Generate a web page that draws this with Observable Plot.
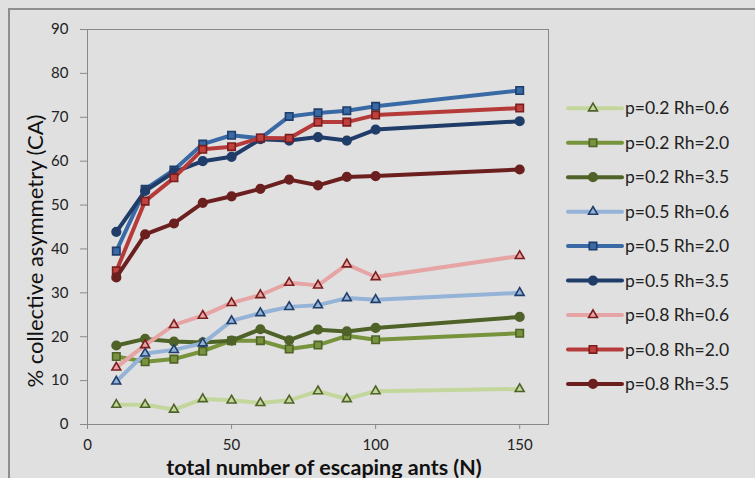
<!DOCTYPE html>
<html>
<head>
<meta charset="utf-8">
<script src="https://cdn.jsdelivr.net/npm/d3@7"></script>
<script src="https://cdn.jsdelivr.net/npm/@observablehq/plot@0.6"></script>
<style>
  html, body { margin: 0; padding: 0; background: #e0e0e0; }
  #wrap { position: relative; width: 755px; height: 478px; overflow: hidden; background: #e0e0e0; font-family: Lato, "Open Sans", sans-serif; }
  #border { position: absolute; left: 8px; top: 8px; width: 900px; height: 700px; border-left: 2px solid #8e8e8e; border-top: 2px solid #8e8e8e; }
  #chart { position: absolute; left: 0; top: 0; }
  #legend { position: absolute; left: 560px; top: 90px; }
</style>
</head>
<body>
<div id="wrap">
  <div id="border"></div>
  <div id="chart"></div>
  <div id="legend"></div>
</div>
<script>
// ---- data ----
const nAnts = [10, 20, 30, 40, 50, 60, 70, 80, 90, 100, 150];
const seriesNames = [
  "p=0.2 Rh=0.6", "p=0.2 Rh=2.0", "p=0.2 Rh=3.5",
  "p=0.5 Rh=0.6", "p=0.5 Rh=2.0", "p=0.5 Rh=3.5",
  "p=0.8 Rh=0.6", "p=0.8 Rh=2.0", "p=0.8 Rh=3.5"
];
const p02_rh06 = [4.5, 4.5, 3.4, 5.8, 5.5, 4.9, 5.5, 7.6, 5.8, 7.6, 8.1];
const p02_rh20 = [15.5, 14.3, 14.9, 16.7, 19.1, 19.1, 17.2, 18.1, 20.2, 19.3, 20.8];
const p02_rh35 = [18.0, 19.5, 18.9, 18.7, 19.1, 21.7, 19.2, 21.6, 21.2, 22.0, 24.5];
const p05_rh06 = [9.8, 16.2, 17.0, 18.5, 23.6, 25.4, 26.8, 27.2, 28.8, 28.4, 30.0];
const p05_rh20 = [39.5, 53.6, 58.0, 63.9, 65.9, 65.2, 70.2, 71.0, 71.5, 72.5, 76.1];
const p05_rh35 = [43.9, 53.2, 57.5, 60.0, 61.0, 65.0, 64.7, 65.5, 64.7, 67.2, 69.1];
const p08_rh06 = [13.0, 18.1, 22.7, 24.8, 27.7, 29.5, 32.3, 31.7, 36.5, 33.6, 38.4];
const p08_rh20 = [35.0, 50.9, 56.2, 62.7, 63.3, 65.3, 65.2, 68.9, 68.9, 70.5, 72.1];
const p08_rh35 = [33.5, 43.3, 45.8, 50.5, 52.0, 53.7, 55.8, 54.5, 56.4, 56.6, 58.1];
const seriesValues = [p02_rh06, p02_rh20, p02_rh35, p05_rh06, p05_rh20, p05_rh35, p08_rh06, p08_rh20, p08_rh35];
const yTicks = [0, 10, 20, 30, 40, 50, 60, 70, 80, 90];
const xTicks = [0, 50, 100, 150];
const xTitle = "total number of escaping ants (N)";
const yTitle = "% collective asymmetry (CA)";

// ---- styles ----
const styles = [
  {line: "#c3d69b", symbol: "triangle", fill: "#c3d69b", stroke: "#4f6228", r: 3.3},
  {line: "#77933c", symbol: "square",   fill: "#77933c", stroke: "#4f6228", r: 4.2},
  {line: "#4f6228", symbol: "circle",   fill: "#4f6228", stroke: "#4f6228", r: 4.3},
  {line: "#95b3d7", symbol: "triangle", fill: "#95b3d7", stroke: "#1f3e6b", r: 3.3},
  {line: "#3a6aa5", symbol: "square",   fill: "#3a6aa5", stroke: "#1f3e6b", r: 4.2},
  {line: "#1f3d68", symbol: "circle",   fill: "#1f3d68", stroke: "#1f3d68", r: 4.3},
  {line: "#e6a4a4", symbol: "triangle", fill: "#e6a4a4", stroke: "#7b1e1e", r: 3.3},
  {line: "#b53b3a", symbol: "square",   fill: "#c0403e", stroke: "#7a1f1f", r: 4.2},
  {line: "#6b1f1f", symbol: "circle",   fill: "#6b1f1f", stroke: "#6b1f1f", r: 4.3}
];

const rows = seriesNames.map((name, i) => nAnts.map((n, j) => ({series: name, n, v: seriesValues[i][j]})));

const marks = [
  Plot.frame({stroke: "#898989", strokeWidth: 1}),
  Plot.axisY(yTicks, {tickSize: 7, tickPadding: 12, stroke: "#898989", fill: "#222", fontSize: 15, label: null}),
  Plot.axisX(xTicks, {tickSize: 5, tickPadding: 10, stroke: "#898989", fill: "#222", fontSize: 15, label: null}),
  Plot.text([xTitle], {frameAnchor: "bottom", textAnchor: "middle", lineAnchor: "bottom", dy: 50, dx: 6, fontWeight: "bold", fontSize: 21.5, fill: "#111"}),
  Plot.text([yTitle], {frameAnchor: "left", textAnchor: "middle", lineAnchor: "middle", dx: -52, dy: 24, rotate: -90, fontSize: 22, fill: "#111"})
];
rows.forEach((data, i) => {
  const s = styles[i];
  marks.push(Plot.line(data, {x: "n", y: "v", stroke: s.line, strokeWidth: 4, strokeLinejoin: "round", strokeLinecap: "round"}));
  marks.push(Plot.dot(data, {x: "n", y: "v", symbol: () => s.symbol, r: s.r, fill: s.fill, stroke: s.stroke, strokeWidth: 1.6}));
});

const chart = Plot.plot({
  width: 755,
  height: 478,
  marginLeft: 87,
  marginTop: 29,
  marginRight: 207,
  marginBottom: 54,
  x: {domain: [0, 160]},
  y: {domain: [0, 90]},
  symbol: {type: "identity"},
  style: {background: "transparent", fontFamily: "Lato, 'Open Sans', sans-serif", overflow: "visible"},
  marks
});
document.getElementById("chart").appendChild(chart);

// ---- legend ----
const lg = d3.select("#legend").append("svg").attr("width", 195).attr("height", 320);
const symTypes = {triangle: d3.symbolTriangle, square: d3.symbolSquare, circle: d3.symbolCircle};
seriesNames.forEach((name, i) => {
  const s = styles[i];
  const g = lg.append("g").attr("transform", `translate(0,${18.3 + i * 34.45})`);
  g.append("line").attr("x1", 8).attr("x2", 62).attr("y1", 0).attr("y2", 0)
    .attr("stroke", s.line).attr("stroke-width", 4).attr("stroke-linecap", "round");
  g.append("path").attr("transform", "translate(33,0)")
    .attr("d", d3.symbol(symTypes[s.symbol], Math.PI * s.r * s.r)())
    .attr("fill", s.fill).attr("stroke", s.stroke).attr("stroke-width", 1.6);
  g.append("text").attr("x", 65).attr("y", 0).attr("dy", "0.35em")
    .attr("font-size", 17.5).attr("fill", "#222")
    .attr("font-family", "Lato, 'Open Sans', sans-serif").text(name);
});
</script>
</body>
</html>
